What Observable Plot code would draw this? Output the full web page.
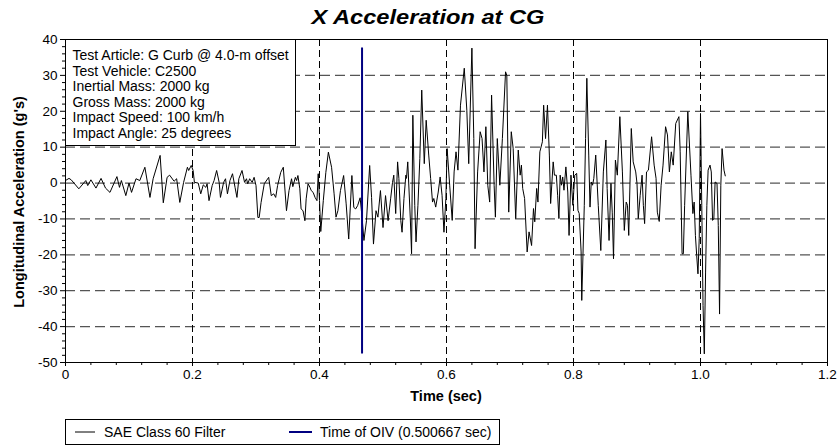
<!DOCTYPE html>
<html><head><meta charset="utf-8">
<script src="https://cdn.jsdelivr.net/npm/d3@7"></script>
<script src="https://cdn.jsdelivr.net/npm/@observablehq/plot@0.6"></script>
<style>
body{margin:0;background:#fff;}
svg{display:block;font-family:"Liberation Sans",Arial,sans-serif;}
</style>
</head><body><div id="chart"></div>
<script>
const chartTitle = "X Acceleration at CG";
const xLabel = "Time (sec)";
const yLabel = "Longitudinal Acceleration (g's)";
const infoLines = [
  "Test Article: G Curb @ 4.0-m offset",
  "Test Vehicle: C2500",
  "Inertial Mass: 2000 kg",
  "Gross Mass: 2000 kg",
  "Impact Speed: 100 km/h",
  "Impact Angle: 25 degrees"
];
const seriesLabel = "SAE Class 60 Filter";
const oivLabel = "Time of OIV (0.500667 sec)";
const oivTime = 0.467;

const timeSec = [
0.000,0.0055,0.009,0.021,0.032,0.035,0.040,0.048,0.056,0.063,0.070,0.081,0.085,0.088,0.095,0.100,0.104,0.111,0.117,0.125,0.133,0.138,0.149,0.154,0.160,0.164,0.171,
0.175,0.180,0.186,0.192,0.194,0.198,0.201,0.203,0.209,0.213,0.217,0.221,0.223,0.226,0.231,0.234,0.238,0.242,0.244,0.249,0.252,0.255,0.259,0.263,0.267,0.270,0.273,0.278,0.282,0.285,0.287,0.290,0.294,0.297,0.300,0.303,0.305,0.308,0.313,0.320,0.324,0.328,0.331,0.334,0.339,0.343,
0.348,0.352,0.356,0.358,0.362,0.364,0.366,0.369,0.371,0.374,0.377,0.379,0.382,0.385,0.387,0.390,0.393,0.396,0.398,0.400,0.402,0.406,0.410,0.414,0.419,0.423,0.426,0.429,0.433,0.438,0.442,0.446,0.451,0.454,0.457,0.460,0.464,0.467,0.470,0.474,0.479,0.482,0.485,0.489,0.492,0.496,0.500,0.504,0.508,0.512,0.515,
0.517,0.520,0.523,0.525,0.528,0.530,0.533,0.536,0.537,0.539,0.543,0.545,0.547,0.550,0.552,0.555,0.558,0.561,0.565,0.568,0.572,0.575,0.578,0.580,0.583,0.587,0.590,0.593,0.596,0.599,0.601,0.605,0.609,0.612,0.615,0.618,0.622,0.628,0.632,0.635,0.640,0.643,0.645,0.649,0.653,0.656,0.659,0.662,0.665,0.668,0.671,0.675,0.677,0.680,0.684,0.688,0.693,
0.695,0.698,0.702,0.705,0.709,0.713,0.716,0.718,0.720,0.723,0.727,0.730,0.734,0.737,0.739,0.742,0.744,0.747,0.751,0.753,0.756,0.759,0.762,0.764,0.768,0.770,0.773,0.775,0.777,0.779,0.781,0.783,0.785,0.788,0.791,0.793,0.796,0.799,0.802,0.805,0.807,0.809,0.812,0.813,0.817,0.819,0.821,0.824,0.826,0.828,0.830,0.832,0.835,0.839,0.843,0.847,0.851,0.853,0.856,0.859,0.861,0.863,0.866,
0.869,0.873,0.877,0.880,0.883,0.885,0.887,0.891,0.894,0.898,0.900,0.902,0.905,0.908,0.910,0.912,0.915,0.918,0.923,0.927,0.930,0.932,0.935,0.938,0.941,0.945,0.948,0.951,0.954,0.957,0.961,0.966,0.968,0.971,0.973,0.975,0.980,0.985,0.988,0.990,0.992,0.994,0.996,0.998,1.000,1.002,1.004,1.006,1.008,1.010,1.012,1.015,1.017,1.019,1.021,1.023,1.026,1.028,1.030,1.032,1.034,1.037,1.039
];
const accelG = [
0.7,1.3,0.9,-1.6,0.7,-0.7,0.9,-1.4,1.3,-1.4,-2.6,1.8,-1.2,0.7,-3.5,0.0,-2.6,1.2,0.7,4.4,-4.0,1.2,7.7,-5.5,1.6,2.2,0.5,
1.2,-5.4,0.2,4.4,3.5,4.9,3.5,0.2,0.0,-3.0,-0.5,-1.2,-0.2,-4.9,-0.7,0.7,3.5,0.2,-4.0,0.2,1.2,-3.0,0.7,2.6,-1.2,-4.0,1.2,3.5,0.2,1.2,-0.2,1.2,0.2,1.6,-0.7,-9.6,-9.6,-5.4,-0.2,1.6,-3.5,-3.0,-4.0,-0.7,3.0,4.4,
-7.7,-2.1,1.2,-1.0,1.6,0.7,2.1,-1.6,-7.2,-7.7,-10.5,-4.4,-0.2,-1.2,-2.1,-2.6,-4.0,-4.9,2.6,-4.9,-13.5,-4.9,3.0,8.6,4.4,-3.0,-9.5,-7.7,-2.1,2.1,-5.8,-15.6,2.1,-6.8,-7.2,-6.3,-4.1,-9.5,-16.0,-10.5,4.9,-4.0,-17.0,-7.7,-9.5,-2.1,-12.4,-3.5,-10.5,-4.4,0.2,
2.2,-8.5,5.9,1.3,-10.4,-13.7,-4.3,2.2,1.3,5.9,-9.9,-19.7,18.9,-6.2,-16.4,-6.2,6.8,25.9,5.4,17.5,7.8,1.3,-5.3,-4.3,-6.7,-2.5,1.7,-3.4,-13.7,-4.3,9.6,-0.6,-10.4,3.1,8.7,3.6,21.7,32.0,20.3,5.4,37.6,12.4,-18.3,3.1,14.3,12.4,3.1,15.7,-0.6,-5.3,24.5,-0.6,-9.5,12.4,-0.6,12.4,31.0,
30.0,-8.1,14.3,9.6,-9.9,9.2,2.2,5.0,-1.5,-4.3,-19.2,-13.6,-17.4,-7.1,-10.8,-1.5,-5.3,8.7,11.5,21.7,12.4,21.7,7.8,-5.7,5.9,2.2,2.2,-3.4,-9.9,2.2,-0.6,1.7,-2.0,4.5,-2.5,-14.6,2.2,-6.2,2.2,2.7,-7.6,-8.5,-19.2,-32.7,-6.2,12.4,29.2,7.8,-6.7,0.3,-0.6,1.3,7.8,-6.2,-18.8,3.1,12.0,-1.5,-16.0,-0.1,-8.1,-21.1,6.4,
2.2,18.5,3.1,-13.2,-5.3,-6.2,-14.6,15.2,5.9,3.1,-0.1,-9.9,-3.4,2.2,-6.2,-11.3,3.1,3.6,12.9,5.0,1.3,-8.1,-10.7,-0.6,5.0,15.7,13.4,3.1,8.7,5.0,16.6,18.5,8.7,-19.7,-19.7,-6.2,19.9,2.2,-8.5,-5.3,-14.6,-20.2,-25.3,-15.5,19.4,-6.2,-34.1,-47.6,-24.8,-6.2,3.6,5.0,3.1,-10.4,-9.9,0.3,-0.1,-11.8,-36.5,-0.6,9.6,3.6,2.0
];

const xTicks = [0, 0.2, 0.4, 0.6, 0.8, 1.0, 1.2];
const xTickLabels = ["0", "0.2", "0.4", "0.6", "0.8", "1.0", "1.2"];
const xGrid = [0.2, 0.4, 0.6, 0.8, 1.0];
const xMinor = [0.04,0.08,0.12,0.16,0.24,0.28,0.32,0.36,0.44,0.48,0.52,0.56,0.64,0.68,0.72,0.76,0.84,0.88,0.92,0.96,1.04,1.08,1.12,1.16];
const yTicks = [40, 30, 20, 10, 0, -10, -20, -30, -40, -50];
const yGrid = [40, 30, 20, 10, 0, -10, -20, -30, -40];
const yMinor = [38,36,34,32,28,26,24,22,18,16,14,12,8,6,4,2,-2,-4,-6,-8,-12,-14,-16,-18,-22,-24,-26,-28,-32,-34,-36,-38,-42,-44,-46,-48];

const points = timeSec.map((t, i) => ({t, g: accelG[i]}));

const chart = Plot.plot({
  width: 839, height: 446,
  marginLeft: 65, marginRight: 12, marginTop: 39, marginBottom: 84,
  style: {fontFamily: "'Liberation Sans', Arial, sans-serif", fontSize: "13.5px", color: "#000", background: "#fff"},
  x: {domain: [0, 1.2]},
  y: {domain: [-50, 40]},
  marks: [
    Plot.ruleY(yGrid, {stroke: "#555", strokeDasharray: "10,5", strokeWidth: 1.2}),
    Plot.ruleX(xGrid, {stroke: "#000", strokeDasharray: "7,4", strokeWidth: 1}),
    Plot.line(points, {x: "t", y: "g", stroke: "#000", strokeWidth: 1}),
    Plot.ruleX([oivTime], {y1: d3.min(accelG), y2: d3.max(accelG), stroke: "#000080", strokeWidth: 2}),
    Plot.frame({stroke: "#000", strokeWidth: 1}),
    Plot.axisX(xMinor, {tickSize: 3, tickFormat: () => "", label: null}),
    Plot.axisX(xTicks, {tickSize: 4, tickPadding: 3, tickFormat: d => xTickLabels[xTicks.indexOf(d)], label: null}),
    Plot.axisY(yMinor, {tickSize: 3, tickFormat: () => "", label: null}),
    Plot.axisY(yTicks, {tickSize: 5, tickPadding: 3, tickFormat: d => String(d), label: null})
  ]
});

const svg = d3.select(chart);
svg.append("text")
  .attr("x", 428).attr("y", 24)
  .attr("text-anchor", "middle")
  .attr("font-size", 20).attr("font-weight", "bold").attr("font-style", "italic")
  .attr("textLength", 233).attr("lengthAdjust", "spacingAndGlyphs")
  .attr("fill", "#000")
  .text(chartTitle);
svg.append("text")
  .attr("x", 446).attr("y", 401)
  .attr("text-anchor", "middle")
  .attr("font-size", 14.5).attr("font-weight", "bold").attr("fill", "#000")
  .text(xLabel);
svg.append("text")
  .attr("transform", "translate(24,202) rotate(-90)")
  .attr("text-anchor", "middle")
  .attr("font-size", 14.5).attr("font-weight", "bold").attr("fill", "#000")
  .text(yLabel);

// info box
const info = svg.append("g").attr("text-anchor", "start");
info.append("rect").attr("x", 65.5).attr("y", 39.5).attr("width", 230).attr("height", 106)
  .attr("fill", "#fff").attr("stroke", "#000");
infoLines.forEach((s, i) => {
  info.append("text").attr("x", 72.5).attr("y", 60 + i * 15.5)
    .attr("text-anchor", "start")
    .attr("font-size", 14).attr("fill", "#000").text(s);
});

// legend
const leg = svg.append("g").attr("text-anchor", "start");
leg.append("rect").attr("x", 65.5).attr("y", 419.5).attr("width", 434).attr("height", 25)
  .attr("fill", "#fff").attr("stroke", "#000");
leg.append("line").attr("x1", 75).attr("x2", 95).attr("y1", 432).attr("y2", 432).attr("stroke", "#000").attr("stroke-width", 1);
leg.append("text").attr("x", 104).attr("y", 437).attr("text-anchor", "start").attr("font-size", 14).attr("fill", "#000").text(seriesLabel);
leg.append("line").attr("x1", 289).attr("x2", 312).attr("y1", 432).attr("y2", 432).attr("stroke", "#000080").attr("stroke-width", 2);
leg.append("text").attr("x", 320).attr("y", 437).attr("text-anchor", "start").attr("font-size", 14).attr("fill", "#000").text(oivLabel);

document.getElementById("chart").appendChild(chart);
</script>
</body></html>
